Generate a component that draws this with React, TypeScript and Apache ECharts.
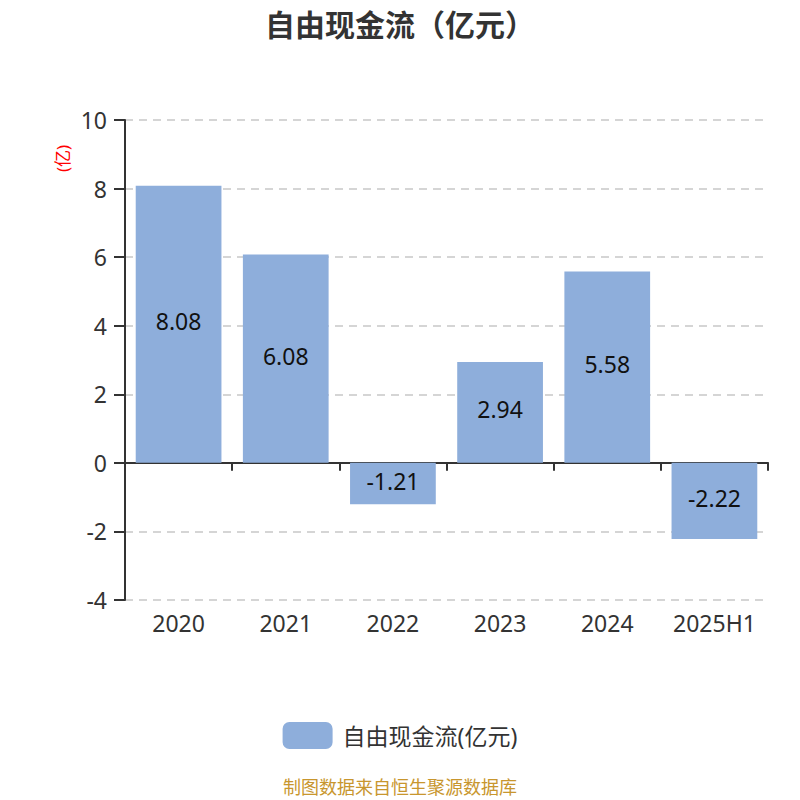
import React, { useEffect, useRef } from 'react';
import * as echarts from 'echarts';

const categories = ['2020', '2021', '2022', '2023', '2024', '2025H1'];
const cashFlow = [8.08, 6.08, -1.21, 2.94, 5.58, -2.22];
const seriesName = '自由现金流(亿元)';

const FONT = "'Noto Sans', 'Noto Sans CJK SC', sans-serif";

const App: React.FC = () => {
  const chartRef = useRef<HTMLDivElement>(null);

  useEffect(() => {
    document.body.style.margin = '0';
    if (!chartRef.current) return;
    const chart = echarts.init(chartRef.current, undefined, { renderer: 'svg' });

    const option = {
      animation: false,
      textStyle: { fontFamily: FONT },
      title: {
        text: '自由现金流（亿元）',
        left: 'center',
        top: 4,
        textStyle: { fontSize: 30, fontWeight: 'bold', color: '#333', fontFamily: FONT },
      },
      legend: {
        top: 717,
        left: 'center',
        itemWidth: 50,
        itemHeight: 27,
        itemGap: 10,
        textStyle: { fontSize: 23, color: '#333', fontFamily: FONT, padding: [0, 0, 0, 5] },
        data: [{ name: seriesName, icon: 'roundRect' }],
      },
      grid: { left: 125, right: 32, top: 120, bottom: 200 },
      xAxis: [
        {
          type: 'category',
          data: categories,
          axisLine: { onZero: true, lineStyle: { color: '#333', width: 2 } },
          axisTick: { show: true, length: 8, lineStyle: { color: '#333', width: 2 } },
          axisLabel: { show: false },
        },
        {
          type: 'category',
          data: categories,
          position: 'bottom',
          axisLine: { show: false, onZero: false },
          axisTick: { show: false },
          axisLabel: { interval: 0, fontSize: 23, color: '#333', margin: 11, fontFamily: FONT },
        },
      ],
      yAxis: {
        type: 'value',
        min: -4,
        max: 10,
        interval: 2,
        axisLine: { show: true, lineStyle: { color: '#333', width: 2 } },
        axisTick: { show: true, length: 11, lineStyle: { color: '#333', width: 2 } },
        axisLabel: { fontSize: 23, color: '#333', margin: 18, fontFamily: FONT },
        splitLine: { lineStyle: { color: '#c8c8c8', type: [8, 6], width: 1.5 } },
      },
      graphic: [
        {
          type: 'text',
          x: 54,
          y: 172,
          rotation: Math.PI / 2,
          style: { text: '(亿)', fill: '#ff0000', fontSize: 17, fontFamily: FONT },
        },
        {
          type: 'text',
          left: 'center',
          top: 778,
          style: { text: '制图数据来自恒生聚源数据库', fill: '#c8962e', fontSize: 18, fontFamily: FONT },
        },
      ],
      series: [
        {
          name: seriesName,
          type: 'bar',
          xAxisIndex: 0,
          data: cashFlow,
          barCategoryGap: '20%',
          itemStyle: { color: '#8eaedb' },
          label: {
            show: true,
            position: 'inside',
            offset: [0, -3],
            fontSize: 23,
            color: '#111',
            fontFamily: FONT,
          },
        },
      ],
    };

    chart.setOption(option);

    const resizeChart = () => chart.resize();
    window.addEventListener('resize', resizeChart);
    return () => {
      window.removeEventListener('resize', resizeChart);
      chart.dispose();
    };
  }, []);

  return <div ref={chartRef} style={{ width: '800px', height: '800px' }}></div>;
};

export default App;
